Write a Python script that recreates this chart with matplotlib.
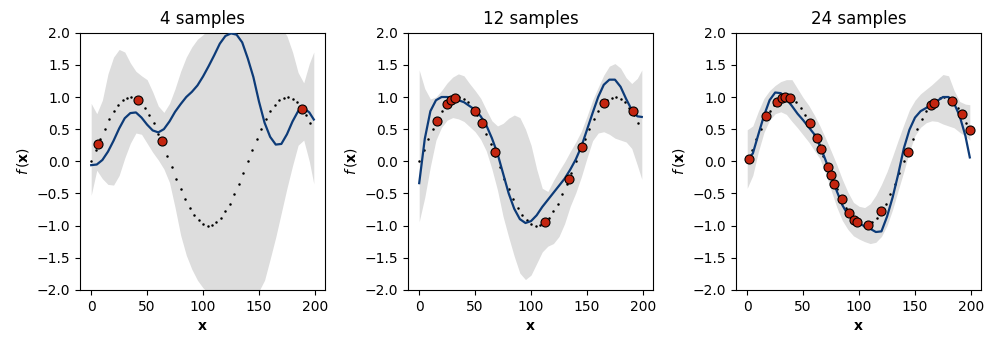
import numpy as np
import matplotlib
matplotlib.use('Agg')
import matplotlib.pyplot as plt

# grid the GP curves were read on
xg = list(range(0, 200, 5)) + [199]

# true function, shown as dots every 4 units
x_true = list(range(0, 200, 4))
f_true = [0.00, 0.18, 0.35, 0.51, 0.66, 0.78, 0.88, 0.95, 0.99, 1.00,
          0.97, 0.92, 0.83, 0.72, 0.59, 0.43, 0.27, 0.09, -0.09, -0.27,
          -0.43, -0.59, -0.72, -0.83, -0.92, -0.97, -1.00, -0.99, -0.95, -0.88,
          -0.78, -0.66, -0.51, -0.35, -0.18, 0.00, 0.18, 0.35, 0.51, 0.66,
          0.78, 0.88, 0.95, 0.99, 1.00, 0.97, 0.92, 0.83, 0.72, 0.59]

titles = ['4 samples', '12 samples', '24 samples']

# 4 samples
x4 = [5.7, 41.9, 63.0, 188.6]
y4 = [0.27, 0.95, 0.31, 0.81]
mean4 = [-0.06, -0.05, 0.02, 0.15, 0.32, 0.51, 0.67, 0.75, 0.76, 0.68,
         0.57, 0.48, 0.45, 0.50, 0.62, 0.77, 0.89, 1.00, 1.08, 1.18,
         1.32, 1.48, 1.65, 1.83, 1.95, 1.99, 1.97, 1.85, 1.60, 1.31,
         0.93, 0.60, 0.38, 0.26, 0.27, 0.42, 0.62, 0.78, 0.83, 0.76, 0.65]
upper4 = [0.90, 0.74, 0.95, 1.36, 1.62, 1.74, 1.70, 1.53, 1.40, 1.33,
          1.27, 1.08, 0.86, 0.76, 0.90, 1.13, 1.40, 1.62, 1.78, 1.90,
          1.97, 2.05, 2.15, 2.25, 2.35, 2.45, 2.50, 2.50, 2.45, 2.40,
          2.35, 2.30, 2.25, 2.18, 2.08, 1.95, 1.70, 1.38, 1.22, 1.52, 1.70]
lower4 = [-0.53, -0.14, -0.27, -0.36, -0.37, -0.22, 0.05, 0.28, 0.44, 0.42,
          0.28, 0.14, 0.02, -0.12, -0.33, -0.72, -1.15, -1.46, -1.68, -1.85,
          -1.97, -2.05, -2.15, -2.20, -2.25, -2.25, -2.20, -2.15, -2.10, -2.05,
          -2.02, -1.85, -1.52, -1.18, -0.80, -0.42, -0.07, 0.25, 0.33, 0.0, -0.35]

# 12 samples
x12 = [15.6, 24.6, 28.7, 32.0, 50.3, 56.0, 67.4, 112.9, 133.8, 145.8, 165.6, 190.7]
y12 = [0.62, 0.89, 0.96, 0.98, 0.78, 0.59, 0.14, -0.95, -0.27, 0.22, 0.90, 0.78]
mean12 = [-0.34, 0.35, 0.78, 0.95, 1.00, 1.00, 0.98, 0.95, 0.92, 0.86,
          0.80, 0.70, 0.56, 0.36, 0.12, -0.19, -0.50, -0.74, -0.90, -0.96,
          -0.93, -0.84, -0.71, -0.60, -0.49, -0.38, -0.27, -0.13, 0.03, 0.23,
          0.49, 0.75, 1.00, 1.19, 1.27, 1.27, 1.16, 0.97, 0.80, 0.70, 0.69]
upper12 = [1.42, 1.13, 0.97, 1.00, 1.10, 1.22, 1.31, 1.36, 1.33, 1.21,
           1.10, 0.98, 0.80, 0.63, 0.55, 0.59, 0.67, 0.72, 0.68, 0.50,
           0.25, -0.12, -0.42, -0.47, -0.30, -0.15, -0.01, 0.15, 0.30, 0.47,
           0.70, 0.95, 1.15, 1.34, 1.48, 1.52, 1.45, 1.30, 1.21, 1.29, 1.42]
lower12 = [-0.94, -0.56, -0.08, 0.33, 0.53, 0.64, 0.68, 0.66, 0.62, 0.54,
           0.46, 0.34, 0.16, -0.12, -0.45, -0.86, -1.18, -1.48, -1.74, -1.84,
           -1.77, -1.59, -1.41, -1.32, -1.28, -1.17, -0.97, -0.70, -0.49, -0.24,
           0.05, 0.32, 0.44, 0.46, 0.42, 0.36, 0.33, 0.30, 0.20, -0.06, -0.28]

# 24 samples
x24 = [1.8, 17.2, 26.3, 30.7, 34.0, 38.6, 55.8, 62.6, 66.3, 72.4, 75.2, 77.6,
       84.4, 90.8, 95.7, 98.5, 108.3, 120.0, 143.6, 164.4, 166.6, 182.8, 192.0, 199.4]
y24 = [0.04, 0.70, 0.92, 0.99, 1.00, 0.99, 0.59, 0.36, 0.19, -0.09, -0.22, -0.36,
       -0.59, -0.81, -0.92, -0.95, -0.99, -0.78, 0.14, 0.88, 0.91, 0.94, 0.74, 0.49]
mean24 = [0.03, 0.12, 0.42, 0.71, 0.95, 1.07, 1.06, 0.97, 0.86, 0.74,
          0.64, 0.53, 0.42, 0.24, 0.02, -0.22, -0.46, -0.68, -0.83, -0.92,
          -0.97, -1.01, -1.05, -1.10, -1.09, -0.86, -0.56, -0.20, 0.20, 0.49,
          0.68, 0.78, 0.83, 0.89, 0.94, 1.00, 1.00, 0.90, 0.70, 0.40, 0.06]
upper24 = [0.49, 0.55, 0.78, 0.98, 1.10, 1.18, 1.24, 1.27, 1.27, 1.13,
           0.99, 0.87, 0.72, 0.55, 0.36, 0.16, -0.05, -0.28, -0.48, -0.64,
           -0.70, -0.72, -0.66, -0.53, -0.36, -0.16, 0.08, 0.33, 0.57, 0.80,
           0.95, 1.05, 1.12, 1.19, 1.27, 1.35, 1.33, 1.10, 0.93, 0.89, 0.88]
lower24 = [-0.42, -0.22, 0.15, 0.45, 0.64, 0.74, 0.77, 0.73, 0.62, 0.52,
           0.41, 0.30, 0.17, 0.04, -0.19, -0.45, -0.71, -0.92, -1.06, -1.16,
           -1.21, -1.25, -1.28, -1.26, -1.17, -1.00, -0.75, -0.45, -0.16, 0.15,
           0.40, 0.53, 0.60, 0.63, 0.62, 0.58, 0.55, 0.52, 0.45, 0.39, 0.33]

panels = [
    (x4, y4, mean4, upper4, lower4),
    (x12, y12, mean12, upper12, lower12),
    (x24, y24, mean24, upper24, lower24),
]

fig, axes = plt.subplots(1, 3, figsize=(10, 3.41), dpi=100)
fig.subplots_adjust(left=0.08, right=0.981, bottom=0.15, top=0.904, wspace=0.339)

for ax, title, (xs, ys, mu, up, lo) in zip(axes, titles, panels):
    ax.fill_between(xg, lo, up, color='#dddddd', lw=0, zorder=1)
    ax.plot(x_true, f_true, 'o', color='k', ms=1.8, mew=0, zorder=2)
    ax.plot(xg, mu, color='#0d3b78', lw=1.6, zorder=3)
    ax.plot(xs, ys, 'o', ms=6.5, mfc='#c4250f', mec='k', mew=0.8, zorder=4)
    ax.set_ylim(-2, 2)
    ax.set_xlim(-10, 209)
    ax.set_title(title)
    ax.set_xlabel(r'$\mathbf{x}$')
    ax.set_ylabel(r'$f\,(\mathbf{x})$')

fig.savefig('out.png', dpi=100)
